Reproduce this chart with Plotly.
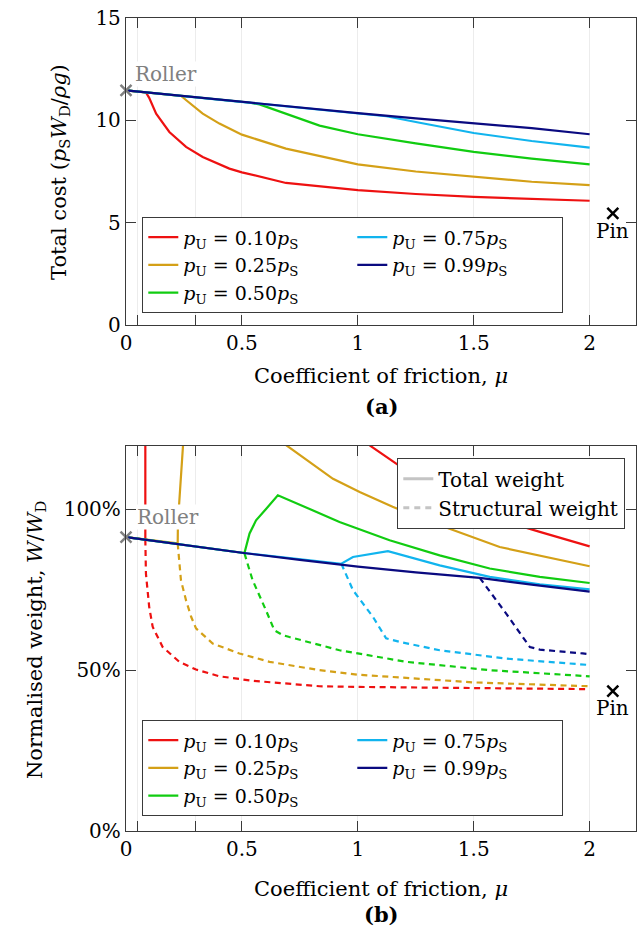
import plotly.graph_objects as go

# ---------------- data: (a) total cost ----------------
series_labels = ["0.10", "0.25", "0.50", "0.75", "0.99"]
series_colors = ["#ee1111", "#d4a017", "#11cc11", "#11b4ee", "#0a0a80"]

mu_a_010 = [0, 0.086, 0.1, 0.13, 0.187, 0.259, 0.331, 0.446, 0.5, 0.69, 1.0, 1.25, 1.5, 1.75, 2.0]
cost_010 = [11.46, 11.36, 11.1, 10.33, 9.43, 8.70, 8.21, 7.64, 7.46, 6.94, 6.59, 6.40, 6.26, 6.15, 6.07]

mu_a_025 = [0, 0.238, 0.26, 0.331, 0.403, 0.5, 0.69, 1.0, 1.25, 1.5, 1.75, 2.0]
cost_025 = [11.46, 11.19, 10.98, 10.33, 9.84, 9.3, 8.62, 7.85, 7.5, 7.24, 7.0, 6.83]

mu_a_050 = [0, 0.53, 0.576, 0.62, 0.72, 0.835, 1.0, 1.25, 1.5, 1.75, 2.0]
cost_050 = [11.46, 10.87, 10.78, 10.6, 10.18, 9.74, 9.32, 8.87, 8.46, 8.13, 7.85]

mu_a_075 = [0, 0.5, 1.0, 1.07, 1.123, 1.267, 1.5, 1.75, 2.0]
cost_075 = [11.46, 10.9, 10.35, 10.28, 10.2, 9.88, 9.38, 8.99, 8.67]

mu_a_099 = [0, 0.25, 0.5, 0.75, 1.0, 1.25, 1.5, 1.75, 2.0]
cost_099 = [11.46, 11.18, 10.9, 10.62, 10.35, 10.1, 9.86, 9.62, 9.32]

# ---------------- data: (b) normalised weight (%) ----------------
# total weight (solid); None = curve leaves the plotted range
mu_b_tot_010 = [0, 0.0834, 0.0834, None, 1.051, 1.123, 1.2, 1.3, 1.4, 1.5, 1.64, 1.785, 2.0]
w_tot_010 = [91.4, 90.6, 121.0, None, 119.9, 116.3, 112.5, 107.8, 103.6, 99.9, 96.1, 93.0, 88.5]
mu_b_str_010 = [0.0834, 0.086, 0.1, 0.115, 0.158, 0.23, 0.302, 0.403, 0.547, 0.835, 1.0, 1.5, 2.0]
w_str_010 = [90.6, 80.0, 69.7, 63.5, 57.2, 52.6, 50.2, 48.1, 46.7, 45.0, 44.8, 44.4, 44.1]

mu_b_tot_025 = [0, 0.223, 0.224, 0.230, 0.238, 0.245, 0.247, None, 0.69, 0.792, 0.893, 1.008, 1.15, 1.295, 1.612, 2.0]
w_tot_025 = [91.4, 89.4, 96.0, 102.8, 112.0, 119.6, 121.0, None, 120.0, 114.6, 109.5, 105.4, 100.8, 96.6, 88.3, 82.3]
mu_b_str_025 = [0.223, 0.237, 0.259, 0.281, 0.302, 0.374, 0.489, 0.619, 0.835, 1.0, 1.5, 2.0]
w_str_025 = [89.4, 78.0, 71.7, 66.6, 63.0, 58.3, 55.2, 52.6, 50.0, 48.6, 46.2, 45.0]

mu_b_tot_050 = [0, 0.511, 0.533, 0.561, 0.605, 0.655, 0.921, 1.137, 1.353, 1.569, 1.785, 2.0]
w_tot_050 = [91.4, 86.4, 92.5, 96.6, 100.2, 104.4, 96.1, 90.4, 85.7, 81.6, 79.0, 77.1]
mu_b_str_050 = [0.511, 0.546, 0.604, 0.64, 0.677, 0.705, 0.921, 1.209, 1.569, 2.0]
w_str_050 = [86.3, 78.0, 68.6, 62.4, 60.9, 60.3, 56.2, 52.6, 50.0, 48.1]

mu_b_tot_075 = [0, 0.5, 0.929, 0.979, 1.13, 1.353, 1.569, 1.785, 2.0]
w_tot_075 = [91.4, 86.5, 83.1, 85.2, 87.0, 82.6, 79.0, 76.7, 75.1]
mu_b_str_075 = [0.929, 0.979, 1.065, 1.122, 1.18, 1.353, 1.64, 2.0]
w_str_075 = [83.1, 74.9, 66.6, 59.9, 58.8, 56.2, 53.6, 51.6]

mu_b_tot_099 = [0, 0.25, 0.5, 0.75, 1.0, 1.25, 1.526, 1.75, 2.0]
w_tot_099 = [91.4, 88.9, 86.5, 84.3, 82.2, 80.4, 78.7, 76.6, 74.4]
mu_b_str_099 = [1.526, 1.64, 1.742, 1.785, 1.97, 2.0]
w_str_099 = [78.7, 67.6, 57.2, 56.4, 55.2, 55.0]

# annotation points
roller_a = (0.0, 11.46)
pin_a = (2.1, 5.45)
roller_b = (0.0, 91.4)
pin_b = (2.1, 43.5)

x_tickvals = [0, 0.05, 0.3, 0.5, 1, 1.5, 2]
x_ticktext = ["0", "", "", "0.5", "1", "1.5", "2"]
y_a_tickvals = [0, 5, 10, 15]
y_b_tickvals = [0, 50, 100]
y_b_ticktext = ["0%", "50%", "100%"]

FONT = "DejaVu Serif"
FS = 19
FRAME = "#3a3a3a"

# figure geometry (pixels) -> plot area
W, H = 642, 938
ML, MR, MT, MB = 126, 6, 18, 107
PW, PH = W - ML - MR, H - MT - MB


def px(x):
    return (x - ML) / PW


def py(y):
    return (H - MB - y) / PH


mu_a = [mu_a_010, mu_a_025, mu_a_050, mu_a_075, mu_a_099]
cost_a = [cost_010, cost_025, cost_050, cost_075, cost_099]
mu_tot = [mu_b_tot_010, mu_b_tot_025, mu_b_tot_050, mu_b_tot_075, mu_b_tot_099]
w_tot = [w_tot_010, w_tot_025, w_tot_050, w_tot_075, w_tot_099]
mu_str = [mu_b_str_010, mu_b_str_025, mu_b_str_050, mu_b_str_075, mu_b_str_099]
w_str = [w_str_010, w_str_025, w_str_050, w_str_075, w_str_099]
legend_rank = [1, 3, 5, 2, 4]


def label(v):
    return f"<i>p</i><sub>U</sub> = {v}<i>p</i><sub>S</sub>"


fig = go.Figure()

# (a)
for i, lab in enumerate(series_labels):
    fig.add_trace(go.Scatter(x=mu_a[i], y=cost_a[i], mode="lines", name=label(lab),
                             line=dict(color=series_colors[i], width=2.2),
                             xaxis="x", yaxis="y", legend="legend", legendrank=legend_rank[i]))

# (b)
for i, lab in enumerate(series_labels):
    fig.add_trace(go.Scatter(x=mu_str[i], y=w_str[i], mode="lines", showlegend=False,
                             line=dict(color=series_colors[i], width=2.2, dash="6px,4.5px"),
                             xaxis="x2", yaxis="y2"))
for i, lab in enumerate(series_labels):
    fig.add_trace(go.Scatter(x=mu_tot[i], y=w_tot[i], mode="lines", name=label(lab),
                             line=dict(color=series_colors[i], width=2.2), connectgaps=False,
                             xaxis="x2", yaxis="y2", legend="legend2", legendrank=legend_rank[i]))

fig.add_trace(go.Scatter(x=[None], y=[None], mode="lines", name="Total weight",
                         line=dict(color="#c4c4c4", width=3), xaxis="x2", yaxis="y2", legend="legend3"))
fig.add_trace(go.Scatter(x=[None], y=[None], mode="lines", name="Structural weight",
                         line=dict(color="#c4c4c4", width=3, dash="6px,5px"), xaxis="x2", yaxis="y2",
                         legend="legend3"))

# markers
for (pt, col, xa, ya) in [(roller_a, "#808080", "x", "y"), (pin_a, "#000000", "x", "y"),
                          (roller_b, "#808080", "x2", "y2"), (pin_b, "#000000", "x2", "y2")]:
    fig.add_trace(go.Scatter(x=[pt[0]], y=[pt[1]], mode="markers", showlegend=False, cliponaxis=False,
                             marker=dict(symbol="x-thin", size=11, line=dict(color=col, width=2.5)),
                             xaxis=xa, yaxis=ya))

axis_common = dict(showline=True, linecolor=FRAME, linewidth=1.3, mirror="ticks", ticks="inside",
                   ticklen=10, tickcolor=FRAME, tickwidth=1, zeroline=False,
                   tickfont=dict(family=FONT, size=20, color="black"))

legend_common = dict(bgcolor="white", bordercolor=FRAME, borderwidth=1.3, traceorder="normal")
fig.update_layout(
    width=W, height=H, margin=dict(l=ML, r=MR, t=MT, b=MB, autoexpand=False),
    paper_bgcolor="white", plot_bgcolor="white",
    font=dict(family=FONT, size=FS, color="black"),
    xaxis=dict(domain=[0, 1], anchor="y", range=[0, 2.2], tickvals=x_tickvals, ticktext=x_ticktext,
               showgrid=True, gridcolor="#ececec", gridwidth=1, **axis_common),
    yaxis=dict(domain=[py(325), py(18)], anchor="x", range=[0, 15], tickvals=y_a_tickvals,
               showgrid=False, **axis_common),
    xaxis2=dict(domain=[0, 1], anchor="y2", range=[0, 2.2], tickvals=x_tickvals, ticktext=x_ticktext,
                showgrid=True, gridcolor="#ececec", gridwidth=1, **axis_common),
    yaxis2=dict(domain=[py(831), py(446)], anchor="x2", range=[0, 119.7],
                tickvals=y_b_tickvals, ticktext=y_b_ticktext, showgrid=False, **axis_common),
    legend=dict(x=px(142), y=py(217), xanchor="left", yanchor="top", orientation="h",
                entrywidth=164, font=dict(family=FONT, size=FS, color="black"), **legend_common),
    legend2=dict(x=px(142), y=py(720), xanchor="left", yanchor="top", orientation="h",
                 entrywidth=164, font=dict(family=FONT, size=FS, color="black"), **legend_common),
    legend3=dict(x=px(625), y=py(458), xanchor="right", yanchor="top",
                 font=dict(family=FONT, size=20, color="black"), **legend_common),
)

ann = []
FT = 21
# axis titles
ann.append(dict(text="Coefficient of friction, <i>μ</i>", x=px(381), y=py(376), xref="paper", yref="paper",
                showarrow=False, xanchor="center", yanchor="middle", font=dict(size=FT)))
ann.append(dict(text="Coefficient of friction, <i>μ</i>", x=px(381), y=py(889), xref="paper", yref="paper",
                showarrow=False, xanchor="center", yanchor="middle", font=dict(size=FT)))
ann.append(dict(text="<b>(a)</b>", x=px(381), y=py(407), xref="paper", yref="paper",
                showarrow=False, xanchor="center", yanchor="middle", font=dict(size=FT)))
ann.append(dict(text="<b>(b)</b>", x=px(381), y=py(914), xref="paper", yref="paper",
                showarrow=False, xanchor="center", yanchor="middle", font=dict(size=FT)))
ann.append(dict(text="Total cost (<i>p</i><sub>S</sub><i>W</i><sub>D</sub>/<i>ρg</i>)", x=px(60),
                y=py(172), xref="paper", yref="paper", showarrow=False, textangle=-90,
                xanchor="center", yanchor="middle", font=dict(size=FT)))
ann.append(dict(text="Normalised weight, <i>W</i>/<i>W</i><sub>D</sub>", x=px(36),
                y=py(640), xref="paper", yref="paper", showarrow=False, textangle=-90,
                xanchor="center", yanchor="middle", font=dict(size=FT)))
# point labels
ann.append(dict(text="Roller", x=0.035, y=12.26, xref="x", yref="y", showarrow=False, xanchor="left",
                yanchor="middle", font=dict(size=20, color="#808080"), bgcolor="white", borderpad=0))
ann.append(dict(text="Pin", x=2.1, y=4.6, xref="x", yref="y", showarrow=False, xanchor="center",
                yanchor="middle", font=dict(size=20, color="black")))
ann.append(dict(text="Roller", x=0.045, y=97.6, xref="x2", yref="y2", showarrow=False, xanchor="left",
                yanchor="middle", font=dict(size=20, color="#808080"), bgcolor="white", borderpad=0))
ann.append(dict(text="Pin", x=2.1, y=38.3, xref="x2", yref="y2", showarrow=False, xanchor="center",
                yanchor="middle", font=dict(size=20, color="black")))
fig.update_layout(annotations=ann)

fig.write_html("out.html")
